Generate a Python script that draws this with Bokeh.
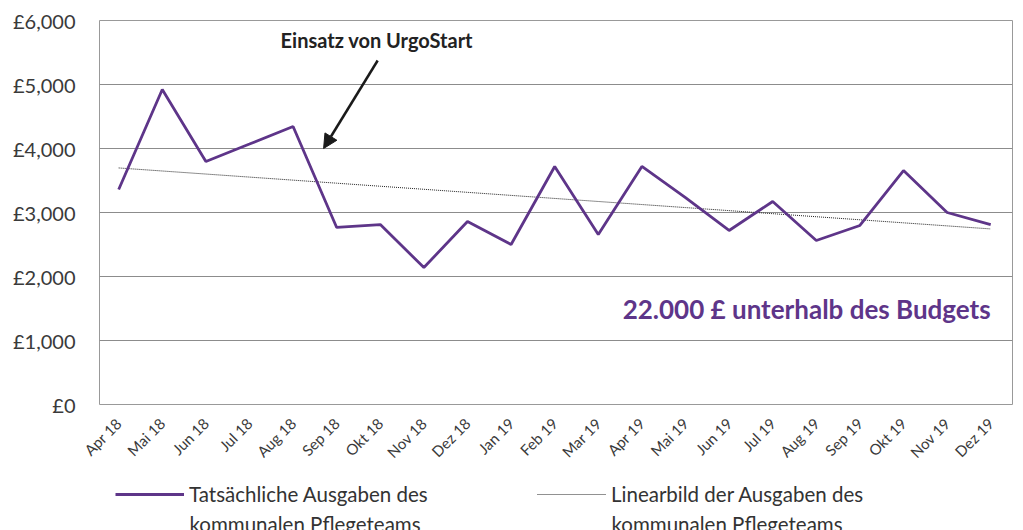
import numpy as np
from bokeh.plotting import figure
from bokeh.layouts import column
from bokeh.models import Label, Arrow, NormalHead, FixedTicker, Range1d, Legend, LegendItem
from bokeh.embed import file_html
from bokeh.resources import INLINE

months = ["Apr 18", "Mai 18", "Jun 18", "Jul 18", "Aug 18", "Sep 18", "Okt 18",
          "Nov 18", "Dez 18", "Jan 19", "Feb 19", "Mar 19", "Apr 19", "Mai 19",
          "Jun 19", "Jul 19", "Aug 19", "Sep 19", "Okt 19", "Nov 19", "Dez 19"]
spend = [3359, 4922, 3797, 4070, 4344, 2766, 2812, 2140, 2859, 2500, 3719,
         2656, 3719, 3234, 2719, 3172, 2562, 2797, 3656, 3000, 2812]
y_ticks = [0, 1000, 2000, 3000, 4000, 5000, 6000]
y_tick_labels = ["£0", "£1,000", "£2,000", "£3,000", "£4,000", "£5,000", "£6,000"]

series_label = "Tatsächliche Ausgaben des"
series_label2 = "kommunalen Pflegeteams"
trend_label = "Linearbild der Ausgaben des"
trend_label2 = "kommunalen Pflegeteams"
annot_text = "Einsatz von UrgoStart"
budget_text = "22.000 £ unterhalb des Budgets"

PURPLE = "#5e3589"
TREND_COLOR = "#222222"
FONT = "Lato"

x = list(range(len(months)))
coef = np.polyfit(x, spend, 1)
trend = [float(coef[0] * i + coef[1]) for i in x]

# ---------------- main chart ----------------
p = figure(width=1023, height=470, output_backend="svg", toolbar_location=None,
           x_range=Range1d(-0.44, 20.5), y_range=Range1d(0, 6000),
           min_border_left=99, min_border_right=11, min_border_top=20, min_border_bottom=66)
p.outline_line_color = "#999999"
p.outline_line_width = 1
p.background_fill_color = "white"
p.border_fill_color = "white"

p.xgrid.grid_line_color = None
p.ygrid.grid_line_color = "#8c8c8c"
p.ygrid.grid_line_width = 1

p.yaxis.ticker = FixedTicker(ticks=y_ticks)
p.yaxis.major_label_overrides = {t: l for t, l in zip(y_ticks, y_tick_labels)}
p.yaxis.axis_line_color = None
p.yaxis.major_tick_line_color = None
p.yaxis.minor_tick_line_color = None
p.yaxis.major_label_text_font = FONT
p.yaxis.major_label_text_font_size = "20px"
p.yaxis.major_label_text_color = "#3a3a3a"
p.yaxis.major_label_standoff = 18

p.xaxis.ticker = FixedTicker(ticks=x)
p.xaxis.major_label_overrides = {i: m for i, m in zip(x, months)}
p.xaxis.axis_line_color = None
p.xaxis.major_tick_line_color = None
p.xaxis.minor_tick_line_color = None
p.xaxis.major_label_text_font = FONT
p.xaxis.major_label_text_font_size = "15px"
p.xaxis.major_label_text_color = "#3a3a3a"
p.xaxis.major_label_orientation = np.pi / 4
p.xaxis.major_label_standoff = 10

p.line(x, trend, line_color=TREND_COLOR, line_width=1, line_dash="1 1")
p.line(x, spend, line_color=PURPLE, line_width=2.8)

p.add_layout(Arrow(end=NormalHead(size=14, fill_color="#1a1a1a", line_color="#1a1a1a"),
                   x_start=5.94, y_start=5375, x_end=4.70, y_end=4000,
                   line_color="#1a1a1a", line_width=2.5))
p.add_layout(Label(x=5.92, y=5690, text=annot_text, text_font=FONT,
                   text_font_style="bold", text_font_size="20px", text_color="#222222",
                   text_align="center", text_baseline="middle"))
p.add_layout(Label(x=20, y=1500, text=budget_text, text_font=FONT,
                   text_font_style="bold", text_font_size="26px", text_color=PURPLE,
                   text_align="right", text_baseline="middle"))

# ---------------- legend strip (frame aligned with the chart frame: 99..1012 px) ----------------
q = figure(width=1023, height=60, output_backend="svg", toolbar_location=None,
           x_range=Range1d(99, 1012), y_range=Range1d(60, 0),
           min_border=0, outline_line_color=None)
q.axis.visible = False
q.grid.visible = False
q.border_fill_color = "white"

nan2 = [float("nan"), float("nan")]
leg_spend = q.line(nan2, nan2, line_color=PURPLE, line_width=2.8)
leg_trend = q.line(nan2, nan2, line_color=TREND_COLOR, line_width=1, line_dash="1 1")

def add_legend(renderer, label, loc):
    lg = Legend(items=[LegendItem(label=label, renderers=[renderer])], location=loc,
                glyph_width=69, glyph_height=20, label_height=20, label_standoff=5,
                padding=0, margin=0, spacing=0, border_line_color=None,
                background_fill_alpha=0, label_text_font=FONT,
                label_text_font_size="20.5px", label_text_color="#333333")
    q.add_layout(lg, "center")

add_legend(leg_spend, series_label, (16, 24))
add_legend(leg_trend, trend_label, (438, 24))

q.add_layout(Label(x=189, y=53, text=series_label2, text_font=FONT, text_font_size="20.5px",
                   text_color="#333333", text_align="left", text_baseline="alphabetic"))
q.add_layout(Label(x=611, y=53, text=trend_label2, text_font=FONT, text_font_size="20.5px",
                   text_color="#333333", text_align="left", text_baseline="alphabetic"))

open("out.html", "w").write(file_html(column(p, q, spacing=0), INLINE))
